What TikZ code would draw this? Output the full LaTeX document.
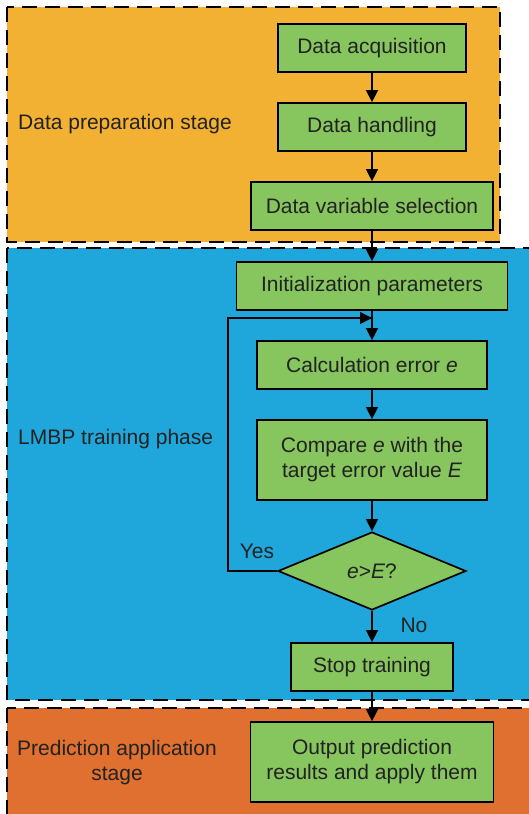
\documentclass[tikz,border=0pt]{standalone}
\usepackage{fontspec}
\setmainfont{Liberation Sans}
\usetikzlibrary{arrows.meta,shapes.geometric}
\definecolor{prepfill}{RGB}{243,177,52}
\definecolor{trainfill}{RGB}{31,167,220}
\definecolor{predfill}{RGB}{224,112,48}
\definecolor{boxgreen}{RGB}{135,197,95}
\definecolor{inkgray}{RGB}{34,34,34}
\begin{document}
\begin{tikzpicture}[x=1pt, y=-1pt, >={Triangle[length=12pt,width=12pt]},
    font=\fontsize{21}{25}\selectfont,
    box/.style={draw, line width=1.7pt, fill=boxgreen, inner sep=0pt, align=center, text=inkgray},
    stage/.style={draw, line width=2.6pt, dash pattern=on 15pt off 8pt},
    flow/.style={->, line width=1.4pt},
    lbl/.style={text=inkgray, inner sep=0pt}]
    \useasboundingbox (0,0) rectangle (529,814);
    \clip (0,0) rectangle (529,814);

    % --- stages ---
    \draw[stage, fill=prepfill] (7,7) rectangle (500,242);
    \draw[stage, fill=trainfill] (7,248) rectangle (545,700);
    \draw[stage, fill=predfill] (7,708) rectangle (545,830);

    \node[lbl, anchor=west] (prep) at (18,124) {Data preparation stage};
    \node[lbl, anchor=west] (train) at (18,439) {LMBP training phase};
    \node[lbl, align=center] (pred) at (117,763) {Prediction application\\stage};

    % --- data preparation ---
    \node[box, minimum width=188pt, minimum height=48pt] (acq) at (372,48) {Data acquisition};
    \node[box, minimum width=188pt, minimum height=48pt] (hand) at (372,127) {Data handling};
    \node[box, minimum width=242pt, minimum height=48pt] (sel) at (372,206) {Data variable selection};

    % --- training ---
    \node[box, minimum width=271pt, minimum height=48pt] (init) at (372,286) {Initialization parameters};
    \node[box, minimum width=230pt, minimum height=48pt] (calc) at (372,365) {Calculation error \textit{e}};
    \node[box, minimum width=230pt, minimum height=80pt] (comp) at (372,460) {Compare \textit{e} with the\\target error value \textit{E}};
    \node[box, diamond, aspect=2.4, minimum width=188pt, minimum height=78pt] (dec) at (372,571) {\textit{e}>\textit{E}?};
    \node[box, minimum width=162pt, minimum height=48pt] (stop) at (372,667) {Stop training};

    % --- prediction ---
    \node[box, minimum width=243pt, minimum height=80pt] (out) at (372,762) {Output prediction\\results and apply them};

    % --- connectors ---
    \coordinate (loop) at (372,318);
    \coordinate (turn) at (228,318);
    \draw[flow] (acq) -- (hand);
    \draw[flow] (hand) -- (sel);
    \draw[flow] (sel) -- (init);
    \draw[flow] (init) -- (calc);
    \draw[flow] (calc) -- (comp);
    \draw[flow] (comp) -- (dec);
    \draw[flow] (dec) -- (stop);
    \draw[flow] (stop) -- (out);
    \draw[flow] (dec.west) -| (turn) -- (loop);

    \node[lbl] (yes) at (257,551) {Yes};
    \node[lbl] (no) at (414,625) {No};
\end{tikzpicture}
\end{document}
